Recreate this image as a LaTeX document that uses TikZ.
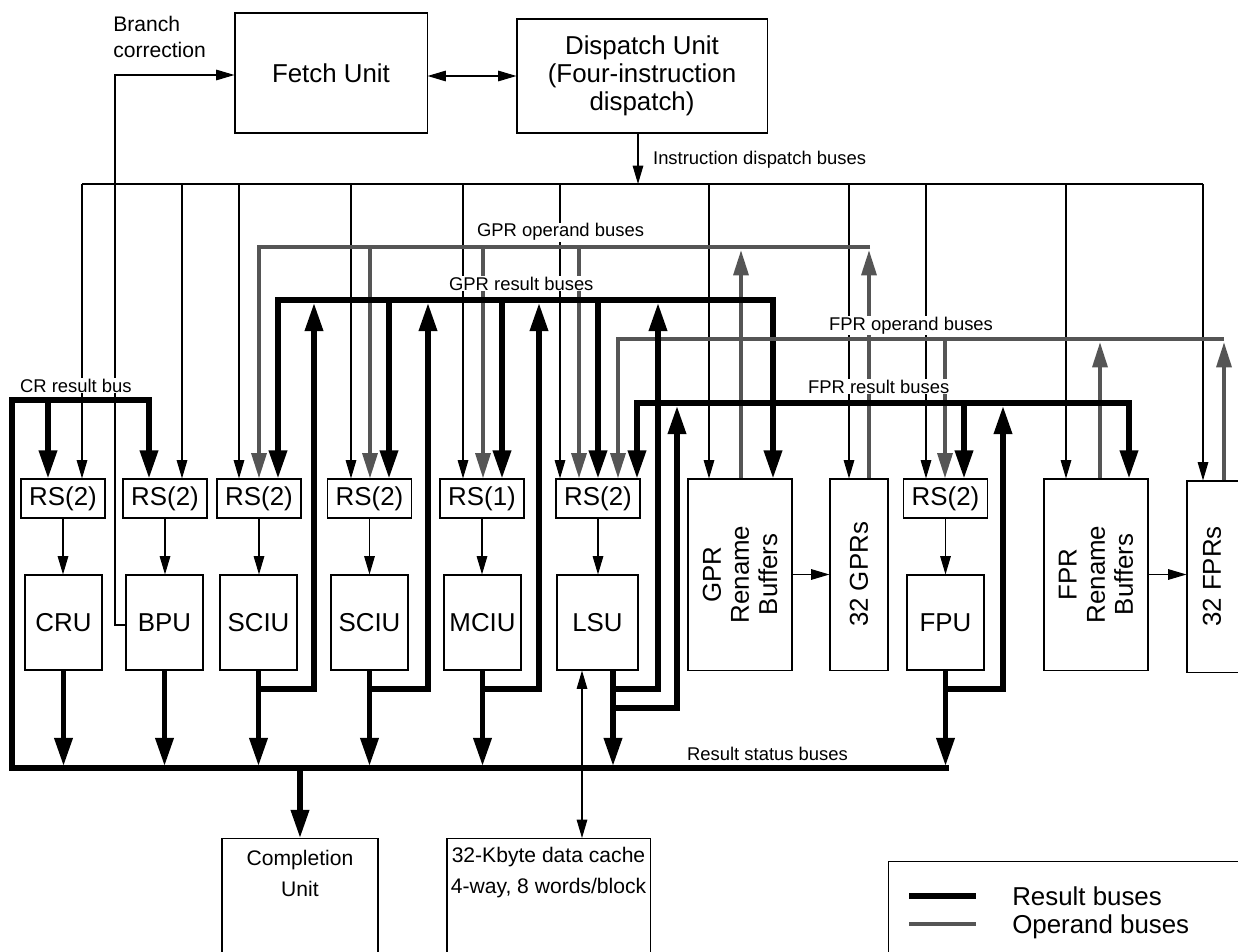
\documentclass[tikz,border=0pt]{standalone}
\usepackage{fontspec}
\setmainfont{Liberation Sans}
\usetikzlibrary{arrows.meta,positioning}

\definecolor{opgray}{RGB}{85,85,85}
\newcommand{\unitsize}{\fontsize{18.4}{20}\selectfont}
\newcommand{\memsize}{\fontsize{15}{22}\selectfont}
\newcommand{\bussize}{\fontsize{13.1}{15}\selectfont}

\tikzset{
  unitbox/.style={draw, line width=0.75pt, inner sep=0pt, font=\unitsize, align=center},
  rsbox/.style={unitbox, minimum width=2.1cm, minimum height=0.975cm},
  fubox/.style={unitbox, minimum width=1.925cm, minimum height=2.375cm},
  regbox/.style={unitbox, minimum height=4.775cm},
  buslabel/.style={font=\bussize, fill=white, inner sep=0.6pt, anchor=base west},
  thinbus/.style={line width=0.75pt, -{Triangle[length=13pt,width=7.5pt]}},
  thinbus2/.style={line width=0.75pt, {Triangle[length=13pt,width=7.5pt]}-{Triangle[length=13pt,width=7.5pt]}},
  resbus/.style={line width=3.6pt, -{Triangle[length=20pt,width=12.5pt]}},
  resbus2/.style={line width=3.6pt, {Triangle[length=20pt,width=12.5pt]}-{Triangle[length=20pt,width=12.5pt]}},
  resline/.style={line width=3.6pt},
  opbus/.style={line width=2.8pt, color=opgray, -{Triangle[length=18pt,width=10.5pt]}},
  opline/.style={line width=2.8pt, color=opgray},
}

\begin{document}
\begin{tikzpicture}[x=0.025cm,y=-0.025cm]
  \useasboundingbox (0,0) rectangle (1238,952);

  % fetch and dispatch
  \node[unitbox, minimum width=4.8cm, minimum height=3cm] (fetch) at (331,73) {Fetch Unit};
  \node[unitbox, minimum width=6.25cm, minimum height=2.85cm] (disp) at (642,76) {Dispatch Unit\\(Four-instruction\\dispatch)};

  % reservation stations
  \foreach \n/\x/\t in {CRU/63/2, BPU/165/2, SA/259/2, SB/369.5/2, MC/482/1, LS/598/2, FP/945.5/2}
    \node[rsbox] (rs\n) at (\x,498.5) {RS(\t)};

  % execution units
  \foreach \n/\x/\t in {CRU/63.5/CRU, BPU/164.5/BPU, SA/258.5/SCIU, SB/369.5/SCIU, MC/482.5/MCIU, FP/945.5/FPU}
    \node[fubox] (fu\n) at (\x,622.5) {\t};
  \node[fubox, minimum width=2.025cm] (fuLS) at (597.5,622.5) {LSU};

  % register files
  \node[regbox, minimum width=2.6cm] (gprRen) at (740,574.5) {};
  \node[rotate=90, font=\unitsize, align=center] (gprRenTxt) at (gprRen) {GPR\\Rename\\Buffers};
  \node[regbox, minimum width=1.45cm] (gprs) at (859,574.5) {};
  \node[rotate=90, font=\unitsize] (gprsTxt) at (gprs) {32 GPRs};
  \node[regbox, minimum width=2.6cm] (fprRen) at (1096,574.5) {};
  \node[rotate=90, font=\unitsize, align=center] (fprRenTxt) at (fprRen) {FPR\\Rename\\Buffers};
  \node[regbox, minimum width=1.45cm] (fprs) at (1216,576.5) {};
  \node[rotate=90, font=\unitsize] (fprsTxt) at (1212,576.5) {32 FPRs};

  % completion and cache
  \node[unitbox, minimum width=3.9cm, minimum height=3.5cm, anchor=north] (compl) at (300,838) {};
  \node[font=\memsize, align=center] (complTxt) at (300,873) {Completion\\Unit};
  \node[unitbox, minimum width=5.075cm, minimum height=3.5cm, anchor=north] (cache) at (548.5,838) {};
  \node[font=\memsize, align=center] (cacheTxt) at (548.5,873) {32-Kbyte data cache\\4-way, 8 words/block};

  % fetch <-> dispatch, dispatch buses
  \draw[thinbus2] (fetch.east |- disp.west) -- (disp.west);
  \draw[thinbus] (638,0 |- disp.south) -- (638,184);
  \draw[line width=0.75pt] (82,184) -- (1203,184);
  \foreach \x/\n in {82/rsCRU, 182/rsBPU, 239/rsSA, 351/rsSB, 463/rsMC, 560/rsLS, 709/gprRen, 849/gprs, 926/rsFP, 1066/fprRen, 1203/fprs}
    \draw[thinbus] (\x,184) -- (\x,0 |- \n.north);

  % branch correction
  \draw[thinbus] (fuBPU.west |- 0,625) -- (115,625) -- (115,75) -- (fetch.west |- 0,75);

  % RS to units
  \foreach \n in {CRU,BPU,SA,SB,MC,LS,FP}
    \draw[thinbus] (rs\n.south) -- (rs\n.south |- fu\n.north);
  \draw[thinbus] (gprRen.east) -- (gprs.west |- gprRen.east);
  \draw[thinbus] (fprRen.east) -- (fprs.west |- fprRen.east);

  % GPR operand buses
  \draw[opbus] (870,247) -- (259,247) -- (259,0 |- rsSA.north);
  \foreach \x/\n in {370/rsSB, 483/rsMC, 579/rsLS}
    \draw[opbus] (\x,247) -- (\x,0 |- \n.north);
  \draw[opbus] (741,0 |- gprRen.north) -- (741,250);
  \draw[opbus] (869,0 |- gprs.north) -- (869,250);

  % GPR result buses
  \draw[resbus2] (278,0 |- rsSA.north) -- (278,300) -- (773,300) -- (773,0 |- gprRen.north);
  \foreach \x/\n in {389/rsSB, 502/rsMC, 598/rsLS}
    \draw[resbus] (\x,300) -- (\x,0 |- \n.north);

  % FPR operand buses
  \draw[opbus] (1224,339) -- (618,339) -- (618,0 |- rsLS.north);
  \draw[opbus] (945,339) -- (945,0 |- rsFP.north);
  \draw[opbus] (1100,0 |- fprRen.north) -- (1100,342);
  \draw[opbus] (1224,0 |- fprs.north) -- (1224,342);

  % FPR result buses
  \draw[resbus2] (637,0 |- rsLS.north) -- (637,403) -- (1129,403) -- (1129,0 |- fprRen.north);
  \draw[resbus] (964,403) -- (964,0 |- rsFP.north);

  % CR result bus and result status buses
  \draw[resbus] (949,768) -- (12,768) -- (12,400) -- (149,400) -- (149,0 |- rsBPU.north);
  \draw[resbus] (48,400) -- (48,0 |- rsCRU.north);

  % unit outputs
  \draw[resbus] (fuCRU.south) -- (fuCRU.south |- 0,766);
  \draw[resbus] (fuBPU.south) -- (fuBPU.south |- 0,766);
  \draw[resbus] (fuSA.south) -- (fuSA.south |- 0,766);
  \draw[resbus] (259,689) -- (314,689) -- (314,303);
  \draw[resbus] (fuSB.south) -- (fuSB.south |- 0,766);
  \draw[resbus] (369,689) -- (428,689) -- (428,303);
  \draw[resbus] (fuMC.south) -- (fuMC.south |- 0,766);
  \draw[resbus] (483,689) -- (539,689) -- (539,303);
  \draw[resbus] (613,0 |- fuLS.south) -- (613,766);
  \draw[resbus] (613,689) -- (658,689) -- (658,303);
  \draw[resbus] (613,708) -- (677,708) -- (677,406);
  \draw[resbus] (fuFP.south) -- (fuFP.south |- 0,766);
  \draw[resbus] (946,689) -- (1003,689) -- (1003,406);

  % completion and cache
  \draw[resbus] (300,768) -- (compl.north);
  \draw[thinbus2] (582,0 |- fuLS.south) -- (582,0 |- cache.north);

  % bus labels
  \node[buslabel] (lblDisp) at (652,165) {Instruction dispatch buses};
  \node[buslabel] (lblGprOp) at (476,237) {GPR operand buses};
  \node[buslabel] (lblGprRes) at (448,290) {GPR result buses};
  \node[buslabel] (lblFprOp) at (828,330) {FPR operand buses};
  \node[buslabel] (lblFprRes) at (807,393) {FPR result buses};
  \node[buslabel] (lblCr) at (19,392) {CR result bus};
  \node[buslabel] (lblStatus) at (686,760) {Result status buses};
  \node[font=\fontsize{15}{18.4}\selectfont, align=left, anchor=west, inner sep=0pt] (lblBranch) at (113,37) {Branch\\correction};

  % legend
  \node[draw, line width=1pt, minimum width=9.5cm, minimum height=3cm, anchor=north west] (legend) at (888,861) {};
  \draw[resline] (909,896) -- (976,896);
  \draw[opline] (909,924) -- (976,924);
  \node[font=\unitsize, anchor=base west, inner sep=0pt] (legRes) at (1012,905) {Result buses};
  \node[font=\unitsize, anchor=base west, inner sep=0pt] (legOp) at (1012,933) {Operand buses};
\end{tikzpicture}
\end{document}
